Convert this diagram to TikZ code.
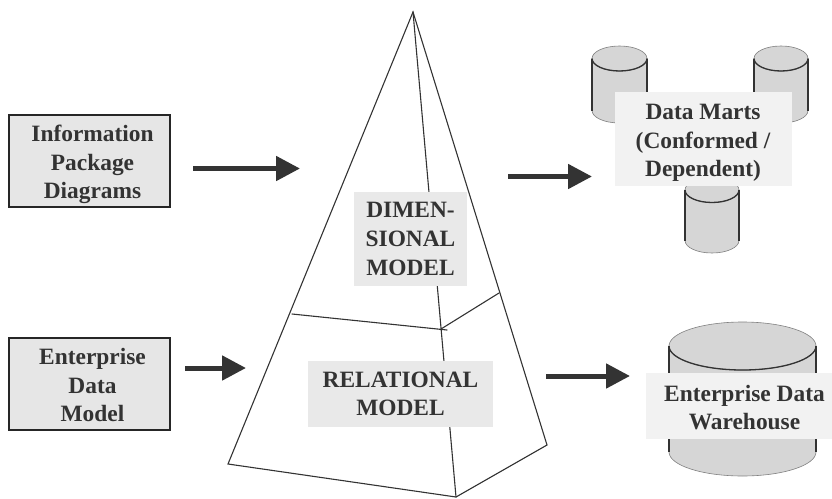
\documentclass[tikz,border=0pt]{standalone}
\usepackage{fontspec}
\setmainfont{Liberation Serif}
\usetikzlibrary{arrows.meta}
\definecolor{inkgray}{HTML}{333333}
\definecolor{boxgray}{HTML}{E6E6E6}
\definecolor{palegray}{HTML}{F2F2F2}
\definecolor{labelgray}{HTML}{E9E9E9}
\definecolor{cylgray}{HTML}{D6D6D6}
\newcommand{\datacyl}[5]{% left, right, top centre y, bottom y of the side lines, y radius
    \path[fill=cylgray,draw=gray,line width=.6pt] (#1,#3) -- (#1,#4) arc[start angle=180,end angle=0,x radius=(#2-#1)/2,y radius=#5] -- (#2,#3) -- cycle;
    \path[fill=cylgray,draw=gray,line width=.6pt] (#1,#3) arc[start angle=180,end angle=-180,x radius=(#2-#1)/2,y radius=#5];
    \draw[cyl edge] (#1,#3) -- (#1,#4);
    \draw[cyl edge] (#2,#3) -- (#2,#4);
    \draw[cyl edge] (#1,#3) arc[start angle=180,end angle=0,x radius=(#2-#1)/2,y radius=#5];
}
\begin{document}
\begin{tikzpicture}[x=1pt,y=-1pt,
    cyl edge/.style={draw=inkgray,line width=1.3pt},
    txt/.style={text=inkgray,font=\fontsize{23.4}{28.6}\selectfont\bfseries,align=center,inner sep=0pt},
    source box/.style={draw=black!85,line width=1.2pt,fill=boxgray,minimum width=161pt,minimum height=92pt},
    model label/.style={txt,fill=labelgray},
    store plate/.style={fill=palegray,inner sep=0pt},
    flow/.style={-{Triangle[length=24pt,width=24pt]},draw=inkgray,line width=5pt},
    wall/.style={draw=inkgray,line width=1.1pt,line cap=round}]
    \useasboundingbox (0,0) rectangle (832,498);

    \node[source box] (info) at (89.5,161) {};
    \node[txt] (infotext) at (92.5,164.5) {Information\\Package\\Diagrams};
    \node[source box] (enterprise) at (89.5,384) {};
    \node[txt] (enterprisetext) at (92.5,385) {Enterprise\\Data\\Model};

    \coordinate (apex) at (413,12);
    \coordinate (baseleft) at (228,464);
    \coordinate (basefront) at (456,497);
    \coordinate (baseright) at (547,445);
    \coordinate (cutleft) at (292,314);
    \coordinate (cutfront) at (441,329);
    \coordinate (cuttick) at (447,330);
    \coordinate (cutright) at (499,293);
    \draw[wall] (apex) -- (baseleft) -- (basefront) -- (baseright) -- cycle;
    \draw[wall] (apex) -- (basefront);
    \draw[wall] (cutleft) -- (cuttick);
    \draw[wall] (cutfront) -- (cutright);

    \node[model label,minimum width=113pt,minimum height=94pt] (dimensional) at (410.5,239) {DIMEN-\\SIONAL\\MODEL};
    \node[model label,minimum width=185pt,minimum height=66pt] (relational) at (400.5,394) {RELATIONAL\\MODEL};

    \datacyl{592}{647}{58.5}{110.5}{12.5}
    \datacyl{754}{808}{58.5}{110.5}{12.5}
    \datacyl{685}{739}{190}{240.5}{12.5}
    \datacyl{669}{816}{346}{452}{24}

    \node[store plate,minimum width=177pt,minimum height=94pt] (marts) at (703.5,139) {};
    \node[txt] (martstext) at (703,143) {Data Marts\\(Conformed /\\Dependent)};
    \node[store plate,minimum width=186pt,minimum height=66pt] (warehouse) at (739,406) {};
    \node[txt] (warehousetext) at (744.5,407.5) {Enterprise Data\\Warehouse};

    \coordinate (infostart) at (193,168.5);
    \coordinate (infoend) at (300,168.5);
    \coordinate (entstart) at (185,368);
    \coordinate (entend) at (246,368);
    \coordinate (martstart) at (508,176.5);
    \coordinate (martend) at (592,176.5);
    \coordinate (housestart) at (546,376);
    \coordinate (houseend) at (630,376);
    \draw[flow] (infostart) -- (infoend);
    \draw[flow] (entstart) -- (entend);
    \draw[flow] (martstart) -- (martend);
    \draw[flow] (housestart) -- (houseend);
\end{tikzpicture}
\end{document}
